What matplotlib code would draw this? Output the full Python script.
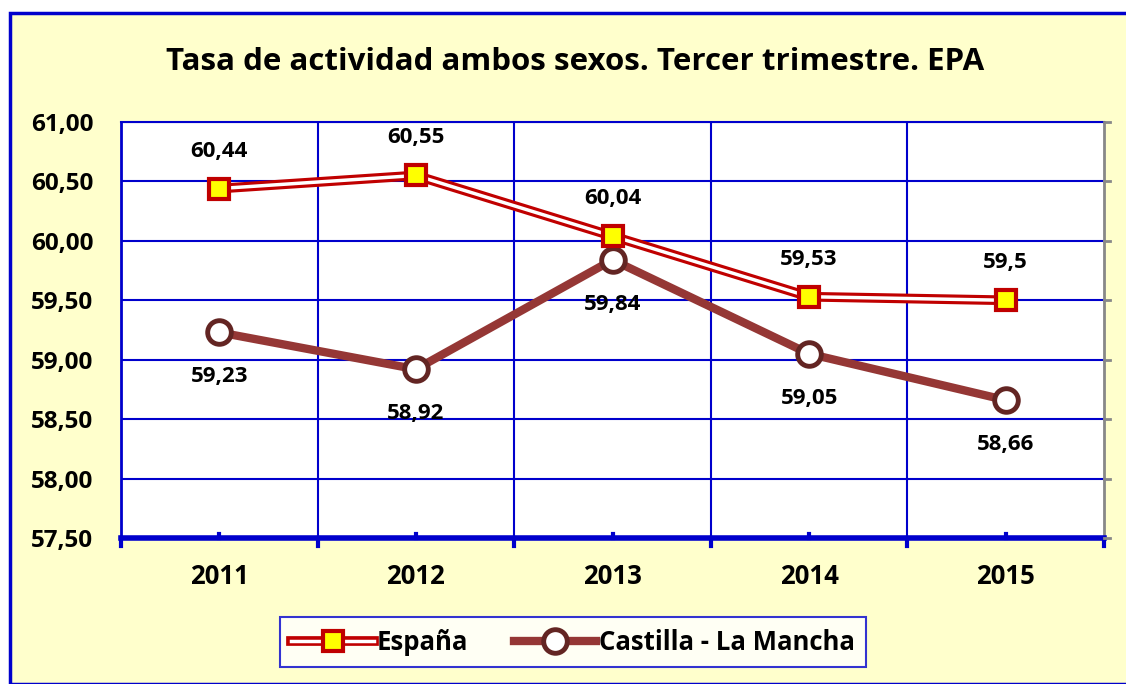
import matplotlib.pyplot as plt
from matplotlib.patches import Rectangle
from matplotlib.lines import Line2D

anios = ["2011", "2012", "2013", "2014", "2015"]
espana = [60.44, 60.55, 60.04, 59.53, 59.50]
clm = [59.23, 58.92, 59.84, 59.05, 58.66]
etiq_esp = ["60,44", "60,55", "60,04", "59,53", "59,5"]
etiq_clm = ["59,23", "58,92", "59,84", "59,05", "58,66"]
yticks = [57.5, 58.0, 58.5, 59.0, 59.5, 60.0, 60.5, 61.0]

plt.rcParams['font.family'] = ['Open Sans', 'DejaVu Sans']

W, H = 1126, 684
fig = plt.figure(figsize=(W / 100, H / 100), dpi=100)
fig.patch.set_facecolor("white")
# fondo amarillo con borde azul
fig.patches.append(Rectangle((10 / W, 0), 1.2, 1 - 13 / H, transform=fig.transFigure,
                             facecolor="#FFFFCC", edgecolor="#0000CC", linewidth=2.5, zorder=-10))

ax = fig.add_axes([121 / W, 1 - 538 / H, (1104 - 121) / W, (538 - 122) / H])
ax.set_facecolor("white")
x = list(range(len(anios)))
ax.set_xlim(-0.5, 4.5)
ax.set_ylim(57.5, 61.0)

# rejilla
for yv in yticks[1:]:
    ax.axhline(yv, color="#0000CC", lw=1.5, zorder=1)
for xv in [0.5, 1.5, 2.5, 3.5]:
    ax.axvline(xv, color="#0000CC", lw=1.5, zorder=1)

# España: línea doble roja / blanca
ax.plot(x, espana, color="#C00000", lw=7, zorder=3, solid_capstyle="butt")
ax.plot(x, espana, color="white", lw=2.5, zorder=4, solid_capstyle="butt")
ax.plot(x, espana, ls="none", marker="s", ms=14, mfc="#FFFF00", mec="#C00000", mew=3, zorder=5)

# Castilla - La Mancha
ax.plot(x, clm, color="#953735", lw=6, zorder=3, marker="o", ms=17,
        mfc="white", mec="#632523", mew=3.5)

for xi, v, t in zip(x, espana, etiq_esp):
    ax.annotate(t, (xi, v), xytext=(0, 27), textcoords="offset points", ha="center",
                va="center", fontsize=16, fontweight="bold")
for xi, v, t in zip(x, clm, etiq_clm):
    ax.annotate(t, (xi, v), xytext=(0, -32), textcoords="offset points", ha="center",
                va="center", fontsize=16, fontweight="bold")

ax.set_yticks(yticks)
ax.set_yticklabels([f"{v:.2f}".replace(".", ",") for v in yticks], fontsize=17.5, fontweight="bold")
ax.set_xticks(x)
ax.set_xticklabels(anios, fontsize=18.5, fontweight="bold")
ax.tick_params(axis="x", length=0, pad=18)
ax.tick_params(axis="y", length=0, pad=20)

# eje inferior grueso con marcas
ax.spines["bottom"].set_color("#0000CC")
ax.spines["bottom"].set_linewidth(4)
ax.spines["left"].set_color("#0000CC")
ax.spines["left"].set_linewidth(2)
ax.spines["top"].set_color("#0000CC")
ax.spines["top"].set_linewidth(1.5)
ax.spines["right"].set_color("#888888")
ax.spines["right"].set_linewidth(2)
for xv in [-0.5, 0.5, 1.5, 2.5, 3.5, 4.5]:
    ax.plot([xv, xv], [57.5, 57.43], color="#0000CC", lw=3, clip_on=False, zorder=6)
for xv in x:
    ax.plot([xv, xv], [57.5, 57.53], color="#0000CC", lw=3, clip_on=False, zorder=6)
for yv in yticks:
    ax.plot([4.5, 4.53], [yv, yv], color="#888888", lw=2, clip_on=False, zorder=6)

fig.text(575 / W, 1 - 62 / H, "Tasa de actividad ambos sexos. Tercer trimestre. EPA",
         ha="center", va="center", fontsize=22.5, fontweight="bold")

handles = [
    (Line2D([], [], color="#C00000", lw=7), Line2D([], [], color="white", lw=2.5),
     Line2D([], [], ls="none", marker="s", ms=14, mfc="#FFFF00", mec="#C00000", mew=3)),
    Line2D([], [], color="#953735", lw=6, marker="o", ms=17, mfc="white", mec="#632523", mew=3.5),
]
leg = fig.legend(handles, ["España", "Castilla - La Mancha"], loc="center",
                 bbox_to_anchor=(573 / W, 1 - 642 / H), ncol=2, frameon=True,
                 fancybox=False, handlelength=3.2, columnspacing=1.8, handletextpad=0.1,
                 prop={"size": 18.5, "weight": "bold"}, borderpad=0.45, borderaxespad=0)
leg.get_frame().set_edgecolor("#0000CC")
leg.get_frame().set_linewidth(1.5)

plt.savefig("out.png", dpi=100)
